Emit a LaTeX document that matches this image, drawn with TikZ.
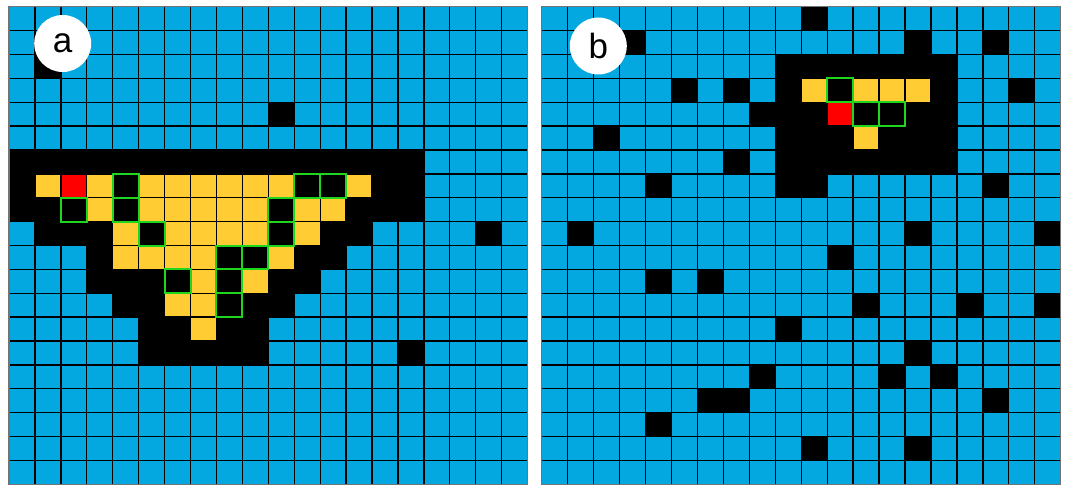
\documentclass[tikz,border=0pt]{standalone}
\usepackage{fontspec}
\setmainfont{Liberation Sans}
\definecolor{freeblue}{RGB}{4,168,224}
\definecolor{fillyellow}{RGB}{255,204,51}
\definecolor{seedred}{RGB}{255,0,0}
\definecolor{edgegreen}{RGB}{30,214,30}

\begin{document}
\begin{tikzpicture}[
			x=1pt, y=-1pt,
			gridline/.style={draw=black, line width=1.3pt},
			wallcell/.style={fill=black},
			floodcell/.style={fill=fillyellow},
			seedcell/.style={fill=seedred},
			edgecell/.style={fill=black, draw=edgegreen, line width=2pt},
			frame/.style={draw=black!55, line width=1.4pt},
			tag/.style={
				circle,
				fill=white,
				minimum size=57pt,
				inner sep=0pt,
				font=\fontsize{35}{35}\selectfont
			}
			]
			\useasboundingbox (0,0) rectangle (1067,486);
			
			\begin{scope}[xshift=9pt, yshift=-6.7pt, x=25.93pt, y=-23.88pt]
				\fill[freeblue] (0,0) rectangle (20,20);
				\foreach \r/\cs in {2/{1}, 4/{10}, 6/{0,...,15}, 7/{0,14,15}, 8/{0,1,13,14,15},
					9/{1,2,3,12,13,18}, 10/{3,11,12}, 11/{3,4,5,10,11}, 12/{4,5,9,10},
					13/{5,6,8,9}, 14/{5,6,7,8,9,15}}
					\foreach \c in \cs
						\fill[wallcell] (\c,\r) rectangle ++(1,1);
				\foreach \r/\cs in {7/{1,3,5,6,7,8,9,10,13}, 8/{3,5,6,7,8,9,11,12}, 9/{4,6,7,8,9,11},
					10/{4,5,6,7,10}, 11/{7,9}, 12/{6,7}, 13/{7}}
					\foreach \c in \cs
						\fill[floodcell] (\c,\r) rectangle ++(1,1);
				\fill[seedcell] (2,7) rectangle ++(1,1);
				\foreach \i in {0,...,20} {
					\draw[gridline] (\i,0) -- (\i,20);
					\draw[gridline] (0,\i) -- (20,\i);
				}
				\foreach \r/\cs in {7/{4,11,12}, 8/{2,4,10}, 9/{5,10}, 10/{8,9}, 11/{6,8}, 12/{8}}
					\foreach \c in \cs
						\filldraw[edgecell] (\c,\r) rectangle ++(1,1);
				\draw[frame] (0,0) rectangle (20,20);
			\end{scope}
			
			\begin{scope}[xshift=541.7pt, yshift=-6.7pt, x=25.95pt, y=-23.88pt]
				\fill[freeblue] (0,0) rectangle (20,20);
				\foreach \r/\cs in {0/{10}, 1/{3,14,17}, 2/{9,...,15}, 3/{5,7,9,15,18}, 4/{8,9,10,14,15},
					5/{2,9,10,11,13,14,15}, 6/{7,9,10,11,12,13,14,15}, 7/{4,9,10,17}, 9/{1,14,19},
					10/{11}, 11/{4,6}, 12/{12,16,19}, 13/{9}, 14/{14}, 15/{8,13,15},
					16/{6,7,17}, 17/{4}, 18/{10,14}}
					\foreach \c in \cs
						\fill[wallcell] (\c,\r) rectangle ++(1,1);
				\foreach \r/\cs in {3/{10,12,13,14}, 5/{12}}
					\foreach \c in \cs
						\fill[floodcell] (\c,\r) rectangle ++(1,1);
				\fill[seedcell] (11,4) rectangle ++(1,1);
				\foreach \i in {0,...,20} {
					\draw[gridline] (\i,0) -- (\i,20);
					\draw[gridline] (0,\i) -- (20,\i);
				}
				\foreach \r/\cs in {3/{11}, 4/{12,13}}
					\foreach \c in \cs
						\filldraw[edgecell] (\c,\r) rectangle ++(1,1);
				\draw[frame] (0,0) rectangle (20,20);
			\end{scope}
			
			\node[tag] (taga) at (62.7,43.5) {a};
			\node[tag] (tagb) at (598.3,46) {b};
		\end{tikzpicture}
\end{document}
